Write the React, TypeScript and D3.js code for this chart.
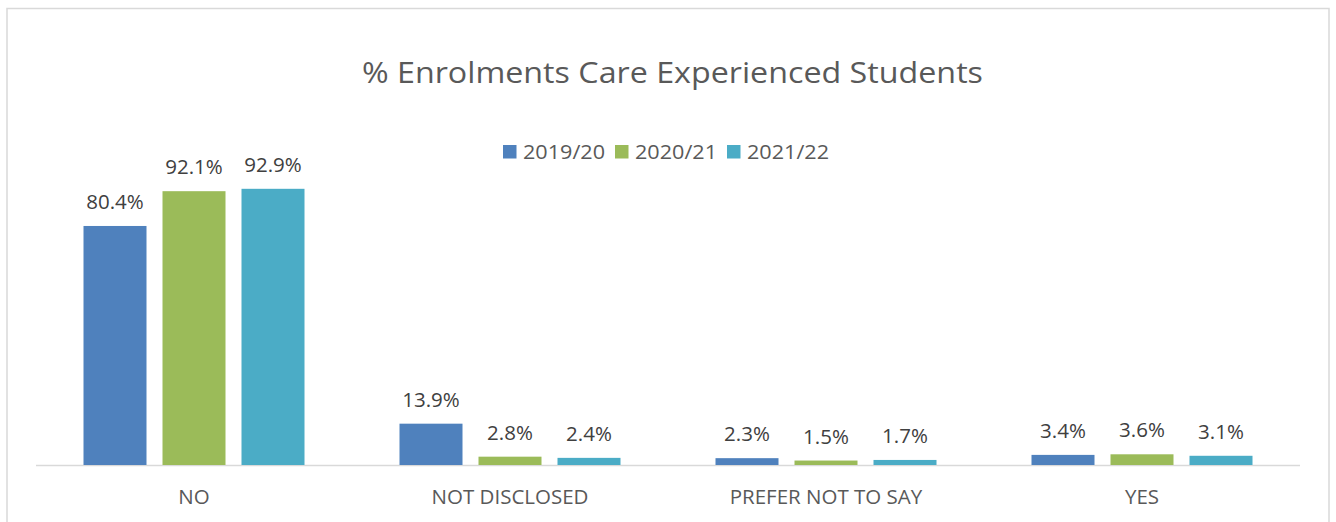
import React from "react";
import * as d3 from "d3";

const categories = ["NO", "NOT DISCLOSED", "PREFER NOT TO SAY", "YES"];
const seriesNames = ["2019/20", "2020/21", "2021/22"];
const s2019 = [80.4, 13.9, 2.3, 3.4];
const s2020 = [92.1, 2.8, 1.5, 3.6];
const s2021 = [92.9, 2.4, 1.7, 3.1];
const colors = ["#4F81BD", "#9BBB59", "#4BACC6"];

const W = 1336;
const H = 522;
const FONT = "'Open Sans', 'Liberation Sans', sans-serif";

export default function App() {
  const series = [s2019, s2020, s2021];
  const plotLeft = 36, plotRight = 1300, baseY = 465;
  const x0 = d3.scaleBand().domain(categories).range([plotLeft, plotRight]).paddingInner(0).paddingOuter(0);
  const groupW = 221;
  const x1 = d3.scaleBand().domain(seriesNames).range([0, groupW]).paddingInner(16 / 79).paddingOuter(0);
  const y = d3.scaleLinear().domain([0, 100]).range([baseY, baseY - 297.3]);

  return (
    <svg width={W} height={H} style={{ position: "absolute", left: 0, top: 0 }}>
      <rect x={0} y={0} width={W} height={H} fill="#fff" />
      <rect x={7} y={8.5} width={1322} height={540} fill="#fff" stroke="#d9d9d9" strokeWidth={1.5} />
      <text x={672.5} y={82.5} textAnchor="middle" fontFamily={FONT} fontSize={29} fill="#595959"
        textLength={621} lengthAdjust="spacingAndGlyphs">
        % Enrolments Care Experienced Students
      </text>
      {seriesNames.map((n, i) => {
        const lx = [503, 615, 727][i];
        return (
          <g key={n}>
            <rect x={lx} y={145} width={13.5} height={13.5} fill={colors[i]} />
            <text x={lx + 20} y={159} fontFamily={FONT} fontSize={20} fill="#595959"
              textLength={82} lengthAdjust="spacingAndGlyphs">{n}</text>
          </g>
        );
      })}
      <line x1={plotLeft} x2={plotRight} y1={baseY + 0.5} y2={baseY + 0.5} stroke="#d9d9d9" strokeWidth={1.5} />
      {categories.map((c, ci) => {
        const gx = (x0(c) as number) + x0.bandwidth() / 2 - groupW / 2;
        return (
          <g key={c}>
            {series.map((s, si) => {
              const bx = gx + (x1(seriesNames[si]) as number);
              const bw = x1.bandwidth();
              const top = y(s[ci]);
              return (
                <g key={si}>
                  <rect x={bx} y={top} width={bw} height={baseY - top} fill={colors[si]} />
                  <text x={bx + bw / 2} y={top - 17} textAnchor="middle" fontFamily={FONT} fontSize={20.5} fill="#404040">
                    {s[ci].toFixed(1) + "%"}
                  </text>
                </g>
              );
            })}
            <text x={(x0(c) as number) + x0.bandwidth() / 2} y={504} textAnchor="middle" fontFamily={FONT} fontSize={20.5} fill="#595959">
              {c}
            </text>
          </g>
        );
      })}
    </svg>
  );
}
